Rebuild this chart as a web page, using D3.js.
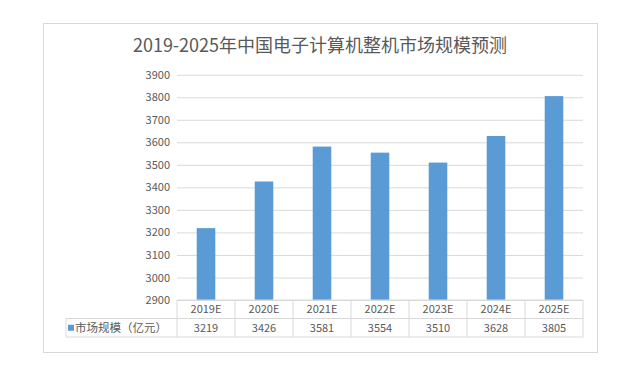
<!DOCTYPE html>
<html>
<head>
<meta charset="utf-8">
<script src="https://cdn.jsdelivr.net/npm/d3@7"></script>
<style>
  body { margin: 0; background: #fff; }
  text { font-family: "Noto Sans CJK SC", "Noto Sans", sans-serif; fill: #595959; }
</style>
</head>
<body>
<div id="wrapper"></div>
<script>
// data
const years = ["2019E", "2020E", "2021E", "2022E", "2023E", "2024E", "2025E"]
const values = [3219, 3426, 3581, 3554, 3510, 3628, 3805]
const yTicks = [2900, 3000, 3100, 3200, 3300, 3400, 3500, 3600, 3700, 3800, 3900]
const seriesName = "市场规模（亿元）"
const title = "2019-2025年中国电子计算机整机市场规模预测"

const dimensions = {
  width: 641,
  height: 366,
  plotLeft: 177,
  plotRight: 583,
  plotTop: 74.7,
  plotBottom: 300,
  rowH: 18.5,
  legendLeft: 66,
}

const svg = d3.select("#wrapper")
  .append("svg")
    .attr("width", dimensions.width)
    .attr("height", dimensions.height)

// outer frame
svg.append("rect")
  .attr("x", 43.5).attr("y", 23.5)
  .attr("width", 554).attr("height", 329)
  .attr("fill", "#fff")
  .attr("stroke", "#d9d9d9")

svg.append("text")
  .attr("x", 320)
  .attr("y", 52)
  .attr("text-anchor", "middle")
  .style("font-size", "18px")
  .text(title)

// scales
const colScale = d3.scaleBand()
  .domain(years)
  .range([dimensions.plotLeft, dimensions.plotRight])

const barScale = d3.scaleBand()
  .domain(years)
  .range([dimensions.plotLeft, dimensions.plotRight])
  .paddingInner(0.68)
  .paddingOuter(0.34)

const yScale = d3.scaleLinear()
  .domain([2900, 3900])
  .range([dimensions.plotBottom, dimensions.plotTop])

// gridlines + y labels
const yAxis = svg.append("g")
  .attr("transform", `translate(${dimensions.plotLeft},0)`)
  .call(d3.axisLeft(yScale)
    .tickValues(yTicks)
    .tickFormat(d3.format("d"))
    .tickSize(-(dimensions.plotRight - dimensions.plotLeft))
    .tickPadding(7))
yAxis.select(".domain").remove()
yAxis.selectAll(".tick line").attr("stroke", "#d9d9d9")
yAxis.selectAll(".tick text")
  .style("font-size", "11px")
  .attr("fill", "#595959")

// bars
svg.append("g")
  .selectAll("rect")
  .data(values)
  .join("rect")
    .attr("x", (d, i) => barScale(years[i]))
    .attr("width", barScale.bandwidth())
    .attr("y", d => yScale(d))
    .attr("height", d => yScale(2900) - yScale(d))
    .attr("fill", "#5b9bd5")

// data table
const table = svg.append("g")
const r0 = dimensions.plotBottom
const r1 = r0 + dimensions.rowH
const r2 = r1 + dimensions.rowH
const lineColor = "#d9d9d9"

table.append("line")
  .attr("x1", dimensions.plotLeft).attr("x2", dimensions.plotRight)
  .attr("y1", r0).attr("y2", r0)
  .attr("stroke", lineColor)
;[r1, r2].forEach(y => {
  table.append("line")
    .attr("x1", dimensions.legendLeft).attr("x2", dimensions.plotRight)
    .attr("y1", y).attr("y2", y)
    .attr("stroke", lineColor)
})
table.append("line")
  .attr("x1", dimensions.legendLeft).attr("x2", dimensions.legendLeft)
  .attr("y1", r1).attr("y2", r2)
  .attr("stroke", lineColor)
table.selectAll(".vline")
  .data(years.concat(["end"]))
  .join("line")
    .attr("class", "vline")
    .attr("x1", (d, i) => i < years.length ? colScale(d) : dimensions.plotRight)
    .attr("x2", (d, i) => i < years.length ? colScale(d) : dimensions.plotRight)
    .attr("y1", r0).attr("y2", r2)
    .attr("stroke", lineColor)

table.selectAll(".cat")
  .data(years)
  .join("text")
    .attr("class", "cat")
    .attr("x", d => colScale(d) + colScale.bandwidth() / 2)
    .attr("y", (r0 + r1) / 2)
    .attr("dy", "0.35em")
    .attr("text-anchor", "middle")
    .style("font-size", "11px")
    .text(d => d)

table.selectAll(".val")
  .data(values)
  .join("text")
    .attr("class", "val")
    .attr("x", (d, i) => colScale(years[i]) + colScale.bandwidth() / 2)
    .attr("y", (r1 + r2) / 2)
    .attr("dy", "0.35em")
    .attr("text-anchor", "middle")
    .style("font-size", "11px")
    .text(d => d)

// legend key
table.append("rect")
  .attr("x", 68).attr("y", (r1 + r2) / 2 - 3)
  .attr("width", 6).attr("height", 6)
  .attr("fill", "#5b9bd5")
table.append("text")
  .attr("x", 75)
  .attr("y", (r1 + r2) / 2)
  .attr("dy", "0.35em")
  .style("font-size", "11.5px")
  .text(seriesName)
</script>
</body>
</html>
